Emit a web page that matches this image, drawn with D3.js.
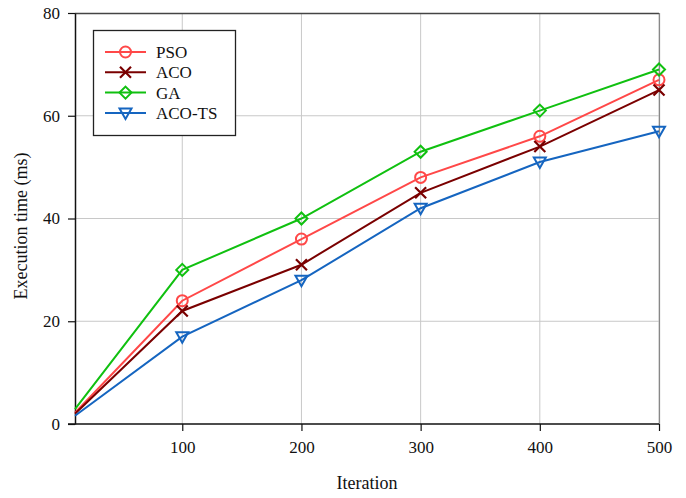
<!DOCTYPE html>
<html><head><meta charset="utf-8">
<script src="https://cdn.jsdelivr.net/npm/d3@7"></script>
<style>body{margin:0;background:#fff}svg{display:block}svg text{font-family:"Liberation Serif","Times New Roman",serif !important;fill:#111}</style>
</head><body><svg id="c" width="686" height="498"></svg>
<script>
const iterations = [10, 100, 200, 300, 400, 500];
const seriesNames = ["PSO", "ACO", "GA", "ACO-TS"];
const psoValues = [2.2, 24, 36, 48, 56, 67];
const acoValues = [2.0, 22, 31, 45, 54, 65];
const gaValues = [2.9, 30, 40, 53, 61, 69];
const acoTsValues = [1.6, 17, 28, 42, 51, 57];
const xTicks = [100, 200, 300, 400, 500];
const yTicks = [0, 20, 40, 60, 80];
const colors = ["#ff4848", "#7a0000", "#10c010", "#1565c0"];
const markers = ["circle", "cross", "diamond", "triangle"];
const allValues = [psoValues, acoValues, gaValues, acoTsValues];

const svg = d3.select("#c");
const m = {l: 75, r: 659, t: 13, b: 424};
const x = d3.scaleLinear().domain([10, 500]).range([m.l, m.r]);
const y = d3.scaleLinear().domain([0, 80]).range([m.b, m.t]);

// grid
svg.append("g").selectAll("line.gx").data(xTicks).join("line")
  .attr("x1", d => x(d)).attr("x2", d => x(d)).attr("y1", m.t).attr("y2", m.b)
  .attr("stroke", "#c8c8c8").attr("stroke-width", 1);
svg.append("g").selectAll("line.gy").data(yTicks.slice(1, -1)).join("line")
  .attr("y1", d => y(d)).attr("y2", d => y(d)).attr("x1", m.l).attr("x2", m.r)
  .attr("stroke", "#c8c8c8").attr("stroke-width", 1);

// frame top/right
svg.append("line").attr("x1", m.l).attr("x2", m.r).attr("y1", m.t + 0.5).attr("y2", m.t + 0.5).attr("stroke", "#444").attr("stroke-width", 1.5);
svg.append("line").attr("x1", m.r + 0.5).attr("x2", m.r + 0.5).attr("y1", m.t).attr("y2", m.b).attr("stroke", "#888").attr("stroke-width", 1.2);

// axes
const xAxis = svg.append("g").attr("transform", `translate(0,${m.b})`)
  .call(d3.axisBottom(x).tickValues(xTicks).tickSize(7).tickPadding(10).tickSizeOuter(0));
const yAxis = svg.append("g").attr("transform", `translate(${m.l},0)`)
  .call(d3.axisLeft(y).tickValues(yTicks).tickSize(7).tickPadding(8).tickSizeOuter(0));
[xAxis, yAxis].forEach(a => {
  a.attr("font-size", null).attr("font-family", null);
  a.select(".domain").attr("stroke", "#111").attr("stroke-width", 1.5);
  a.selectAll(".tick line").attr("stroke", "#111").attr("stroke-width", 1.2);
  a.selectAll("text").style("font-size", "17px").style("font-family", "'Liberation Serif', serif").attr("fill", "#111");
});
xAxis.select(".domain").attr("d", `M${m.l - 7},0H${m.r}`);

svg.append("text").attr("x", (m.l + m.r) / 2 - 0).attr("y", 489).attr("text-anchor", "middle")
  .style("font-size", "18px").text("Iteration");
svg.append("text").attr("transform", `translate(27,226) rotate(-90)`)
  .attr("text-anchor", "middle").style("font-size", "18px").text("Execution time (ms)");

function drawMarker(g, type, cx, cy, color) {
  const s = 5.5;
  if (type === "circle") g.append("circle").attr("cx", cx).attr("cy", cy).attr("r", s).attr("fill", "none").attr("stroke", color).attr("stroke-width", 2);
  else if (type === "cross") g.append("path").attr("d", `M${cx - s},${cy - s}L${cx + s},${cy + s}M${cx - s},${cy + s}L${cx + s},${cy - s}`).attr("stroke", color).attr("stroke-width", 2.2).attr("fill", "none");
  else if (type === "diamond") g.append("path").attr("d", `M${cx},${cy - 6}L${cx + 6},${cy}L${cx},${cy + 6}L${cx - 6},${cy}Z`).attr("stroke", color).attr("stroke-width", 2).attr("fill", "none");
  else g.append("path").attr("d", `M${cx - 6},${cy - 4.5}L${cx + 6},${cy - 4.5}L${cx},${cy + 6}Z`).attr("stroke", color).attr("stroke-width", 2).attr("fill", "none");
}

const line = d3.line().x((d, i) => x(iterations[i])).y(d => y(d));
const order = [0, 1, 3, 2];
order.forEach(k => {
  const g = svg.append("g");
  g.append("path").attr("d", line(allValues[k])).attr("fill", "none").attr("stroke", colors[k]).attr("stroke-width", 2);
  allValues[k].forEach((v, i) => { if (i > 0) drawMarker(g, markers[k], x(iterations[i]), y(v), colors[k]); });
});

// legend
const lg = svg.append("g");
lg.append("rect").attr("x", 93.5).attr("y", 30.5).attr("width", 142).attr("height", 105).attr("fill", "#fff").attr("stroke", "#222").attr("stroke-width", 1.3);
seriesNames.forEach((n, i) => {
  const yy = 52 + i * 20.3;
  lg.append("line").attr("x1", 105).attr("x2", 146).attr("y1", yy).attr("y2", yy).attr("stroke", colors[i]).attr("stroke-width", 2);
  drawMarker(lg, markers[i], 125.5, yy, colors[i]);
  lg.append("text").attr("x", 156).attr("y", yy + 6).style("font-size", "17px").text(n);
});
</script></body></html>
